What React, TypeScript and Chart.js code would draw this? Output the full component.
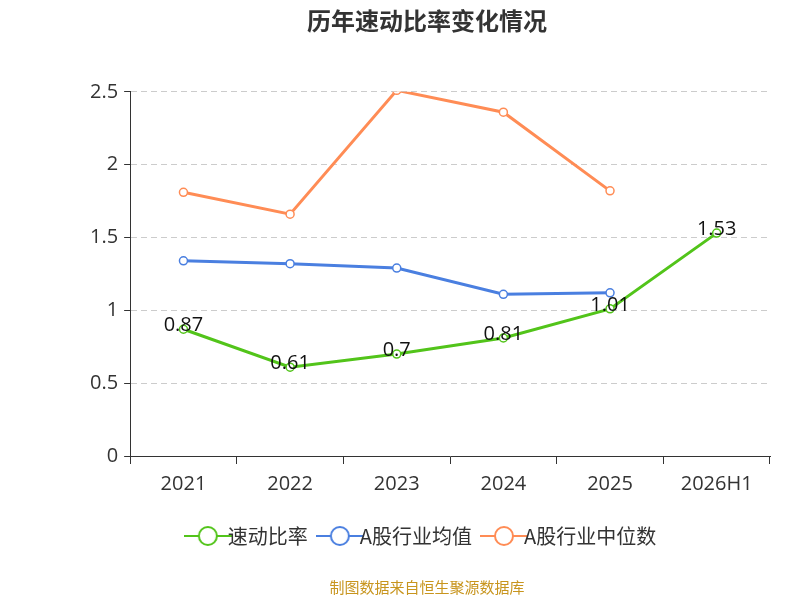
import React, { useEffect, useRef } from "react";
import { Chart, registerables } from "chart.js";
Chart.register(...registerables);

const categories = ["2021", "2022", "2023", "2024", "2025", "2026H1"];
const quickRatio = [0.87, 0.61, 0.7, 0.81, 1.01, 1.53];
const industryMean = [1.34, 1.32, 1.29, 1.11, 1.12, null];
const industryMedian = [1.81, 1.66, 2.51, 2.36, 1.82, null];

const labelPlugin = {
  id: "valLabels",
  afterDatasetsDraw(chart: any) {
    const ctx = chart.ctx;
    const meta = chart.getDatasetMeta(0);
    ctx.save();
    ctx.font = "20px 'Open Sans', 'Noto Sans', sans-serif";
    ctx.fillStyle = "#111";
    ctx.textAlign = "center";
    ctx.textBaseline = "middle";
    meta.data.forEach((pt: any, i: number) => {
      ctx.fillText(String(quickRatio[i]), pt.x, pt.y - 4);
    });
    ctx.restore();
  },
};

function legendIcon(color: string) {
  const c = document.createElement("canvas");
  c.width = 48; c.height = 22;
  const g = c.getContext("2d")!;
  g.strokeStyle = color; g.lineWidth = 2;
  g.beginPath(); g.moveTo(0, 11); g.lineTo(48, 11); g.stroke();
  g.fillStyle = "#fff";
  g.beginPath(); g.arc(24, 11, 9, 0, Math.PI * 2); g.fill(); g.stroke();
  return c;
}

export default function App() {
  const ref = useRef<HTMLCanvasElement>(null);
  useEffect(() => {
    const font = "'Noto Sans CJK SC', 'Noto Sans', sans-serif";
    const tickFont = "'Open Sans', 'Noto Sans', sans-serif";
    const ds = (label: string, data: any[], color: string) => ({
      label, data, borderColor: color, backgroundColor: "#fff",
      pointBorderColor: color, pointBackgroundColor: "#fff",
      borderWidth: 3, pointRadius: 4, pointBorderWidth: 1.5, tension: 0,
      pointStyle: "circle",
    });
    const colors = ["#52c41a", "#4a7fe0", "#ff8c55"];
    const icons = colors.map(legendIcon);
    const chart = new Chart(ref.current!, {
      type: "line",
      data: {
        labels: categories,
        datasets: [
          ds("速动比率", quickRatio, colors[0]),
          ds("A股行业均值", industryMean, colors[1]),
          ds("A股行业中位数", industryMedian, colors[2]),
        ],
      },
      options: {
        animation: false,
        responsive: false,
        layout: { padding: { left: 84, right: 30, top: 0, bottom: 0 } },
        plugins: {
          title: { display: true, text: "历年速动比率变化情况", font: { size: 24, weight: "bold", family: font }, color: "#333", padding: { top: 6, bottom: 57 } },
          legend: {
            position: "bottom",
            labels: {
              usePointStyle: true, font: { size: 20, family: font }, color: "#333", padding: 22,
              generateLabels: (ch: any) => ch.data.datasets.map((d: any, i: number) => ({
                text: d.label, pointStyle: icons[i], datasetIndex: i, fontColor: "#333",
                lineWidth: 0, strokeStyle: "transparent", fillStyle: "transparent",
              })),
            },
            onClick: () => {},
          },
          subtitle: { display: true, position: "bottom", text: "制图数据来自恒生聚源数据库", color: "#c8951e", font: { size: 15, family: font }, padding: { top: 22, bottom: 4 } },
          tooltip: { enabled: false },
        },
        scales: {
          x: {
            offset: true,
            grid: { display: true, drawOnChartArea: false, offset: true, tickLength: 8, color: "#333" },
            border: { color: "#333" },
            ticks: { font: { size: 20, family: tickFont }, color: "#333", padding: 8 },
          },
          y: {
            min: 0, max: 2.5,
            ticks: { stepSize: 0.5, font: { size: 20, family: tickFont }, color: "#333", padding: 6, callback: (v: any) => String(Number(v)) },
            grid: { color: "#ccc", tickLength: 6, tickColor: "#333" },
            border: { color: "#333", dash: [6, 4] } as any,
          },
        },
      } as any,
      plugins: [labelPlugin],
    });
    return () => chart.destroy();
  }, []);
  return (
    <div style={{ position: "absolute", left: 0, top: 0, width: 800, height: 600, background: "#fff" }}>
      <canvas ref={ref} width={800} height={600} />
    </div>
  );
}
